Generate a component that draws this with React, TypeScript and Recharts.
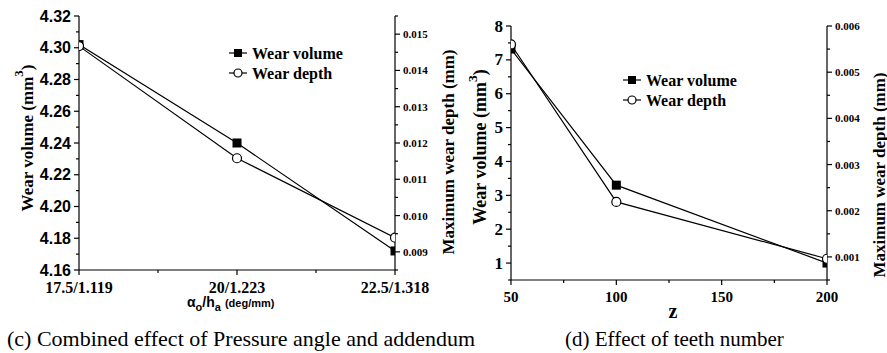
import React from "react";
import { LineChart, Line, XAxis, YAxis } from "recharts";

// (c) combined effect of pressure angle and addendum
const pressureLabels = ["17.5/1.119", "20/1.223", "22.5/1.318"];
const pressureVolume = [4.302, 4.24, 4.172];
const pressureDepth = [0.01467, 0.01158, 0.00939];

const pressureXTicks = [0, 0.5, 1, 1.5, 2];
const pressureXMajors = [0, 1, 2];
const pressureVolumeTicks = [4.16, 4.17, 4.18, 4.19, 4.2, 4.21, 4.22, 4.23, 4.24, 4.25, 4.26, 4.27, 4.28, 4.29, 4.3, 4.31, 4.32];
const pressureVolumeMajors = [4.16, 4.18, 4.2, 4.22, 4.24, 4.26, 4.28, 4.3, 4.32];
const pressureDepthTicks = [0.0085, 0.009, 0.0095, 0.01, 0.0105, 0.011, 0.0115, 0.012, 0.0125, 0.013, 0.0135, 0.014, 0.0145, 0.015, 0.0155];
const pressureDepthMajors = [0.009, 0.01, 0.011, 0.012, 0.013, 0.014, 0.015];

// (d) effect of teeth number
const teethNumbers = [50, 100, 200];
const teethVolume = [7.32, 3.3, 1.0];
const teethDepth = [0.0056, 0.00219, 0.00096];

const teethXTicks = [50, 75, 100, 125, 150, 175, 200];
const teethXMajors = [50, 100, 150, 200];
const teethVolumeTicks = [0.5, 1, 1.5, 2, 2.5, 3, 3.5, 4, 4.5, 5, 5.5, 6, 6.5, 7, 7.5, 8];
const teethVolumeMajors = [1, 2, 3, 4, 5, 6, 7, 8];
const teethDepthTicks = [0.0005, 0.001, 0.0015, 0.002, 0.0025, 0.003, 0.0035, 0.004, 0.0045, 0.005, 0.0055, 0.006];
const teethDepthMajors = [0.001, 0.002, 0.003, 0.004, 0.005, 0.006];

const SERIF = '"Liberation Serif", "Times New Roman", serif';
const SANS = '"Liberation Sans", Arial, sans-serif';

const pressureRows = pressureLabels.map((label, i) => ({
  pos: i,
  label,
  volume: pressureVolume[i],
  depth: pressureDepth[i],
}));

const teethRows = teethNumbers.map((z, i) => ({
  z,
  volume: teethVolume[i],
  depth: teethDepth[i],
}));

const isMajor = (majors: number[], v: number) => majors.some((m) => Math.abs(m - v) < 1e-9);

// tick drawn by hand so major and minor ticks get different lengths
function AxisTick(props: any) {
  const { x, y, payload, side, majors, fmt, font, size, gap } = props;
  const v = payload.value;
  const major = isMajor(majors, v);
  const len = major ? 5 : 3;
  const label = major && fmt ? fmt(v) : null;
  const textStyle = { fontFamily: font, fontWeight: 700, fontSize: size, fill: "#000" };
  if (side === "left") {
    return (
      <g>
        <line x1={x} y1={y} x2={x - len} y2={y} stroke="#000" strokeWidth={1.2} />
        {label && (
          <text x={x - len - gap} y={y} textAnchor="end" dominantBaseline="central" style={textStyle}>
            {label}
          </text>
        )}
      </g>
    );
  }
  if (side === "right") {
    return (
      <g>
        <line x1={x} y1={y} x2={x + len} y2={y} stroke="#000" strokeWidth={1.2} />
        {label && (
          <text x={x + len + gap} y={y} textAnchor="start" dominantBaseline="central" style={textStyle}>
            {label}
          </text>
        )}
      </g>
    );
  }
  if (side === "top") {
    return <line x1={x} y1={y} x2={x} y2={y + len} stroke="#000" strokeWidth={1.2} />;
  }
  return (
    <g>
      <line x1={x} y1={y} x2={x} y2={y + len} stroke="#000" strokeWidth={1.2} />
      {label && (
        <text x={x} y={y + len + gap} textAnchor="middle" dominantBaseline="central" style={textStyle}>
          {label}
        </text>
      )}
    </g>
  );
}

function SquareDot(props: any) {
  const { cx, cy, index } = props;
  if (cx == null || cy == null) return null;
  return <rect key={`sq-${index}`} x={cx - 4.5} y={cy - 4.5} width={9} height={9} fill="#000" />;
}

function CircleDot(props: any) {
  const { cx, cy, index } = props;
  if (cx == null || cy == null) return null;
  return <circle key={`ci-${index}`} cx={cx} cy={cy} r={4.5} fill="#fff" stroke="#000" strokeWidth={1.2} />;
}

const axisLine = { stroke: "#000", strokeWidth: 1.2 };

function PressureChart() {
  return (
    <LineChart width={445} height={310} data={pressureRows} margin={{ top: 16, right: 0, bottom: 0, left: 0 }}>
      <XAxis
        xAxisId="x"
        dataKey="pos"
        type="number"
        domain={[0, 2]}
        allowDataOverflow
        ticks={pressureXTicks}
        interval={0}
        height={40}
        axisLine={axisLine}
        tickLine={false}
        tickSize={0}
        tickMargin={0}
        tick={<AxisTick side="bottom" majors={pressureXMajors} fmt={(v: number) => pressureLabels[v]} font={SERIF} size={16} gap={12} />}
      />
      <XAxis
        xAxisId="top"
        orientation="top"
        dataKey="pos"
        type="number"
        domain={[0, 2]}
        ticks={pressureXTicks}
        interval={0}
        height={0}
        axisLine={axisLine}
        tickLine={false}
        tickSize={0}
        tickMargin={0}
        tick={<AxisTick side="top" majors={pressureXMajors} />}
      />
      <YAxis
        yAxisId="vol"
        orientation="left"
        domain={[4.16, 4.32]}
        ticks={pressureVolumeTicks}
        interval={0}
        width={79}
        axisLine={axisLine}
        tickLine={false}
        tickSize={0}
        tickMargin={0}
        tick={<AxisTick side="left" majors={pressureVolumeMajors} fmt={(v: number) => v.toFixed(2)} font={SANS} size={16} gap={3} />}
      />
      <YAxis
        yAxisId="dep"
        orientation="right"
        domain={[0.0085, 0.0155]}
        ticks={pressureDepthTicks}
        interval={0}
        width={50}
        axisLine={axisLine}
        tickLine={false}
        tickSize={0}
        tickMargin={0}
        tick={<AxisTick side="right" majors={pressureDepthMajors} fmt={(v: number) => v.toFixed(3)} font={SERIF} size={11} gap={3} />}
      />
      <Line xAxisId="x" yAxisId="vol" type="linear" dataKey="volume" stroke="#000" strokeWidth={1.2} dot={SquareDot} activeDot={false} isAnimationActive={false} />
      <Line xAxisId="x" yAxisId="dep" type="linear" dataKey="depth" stroke="#000" strokeWidth={1.2} dot={CircleDot} activeDot={false} isAnimationActive={false} />
    </LineChart>
  );
}

function TeethChart() {
  return (
    <LineChart width={437} height={320} data={teethRows} margin={{ top: 26, right: 0, bottom: 0, left: 0 }}>
      <XAxis
        xAxisId="x"
        dataKey="z"
        type="number"
        domain={[50, 200]}
        allowDataOverflow
        ticks={teethXTicks}
        interval={0}
        height={40}
        axisLine={axisLine}
        tickLine={false}
        tickSize={0}
        tickMargin={0}
        tick={<AxisTick side="bottom" majors={teethXMajors} fmt={(v: number) => String(v)} font={SERIF} size={15} gap={12} />}
      />
      <XAxis
        xAxisId="top"
        orientation="top"
        dataKey="z"
        type="number"
        domain={[50, 200]}
        ticks={teethXTicks}
        interval={0}
        height={0}
        axisLine={axisLine}
        tickLine={false}
        tickSize={0}
        tickMargin={0}
        tick={<AxisTick side="top" majors={teethXMajors} />}
      />
      <YAxis
        yAxisId="vol"
        orientation="left"
        domain={[0.5, 8]}
        ticks={teethVolumeTicks}
        interval={0}
        width={71}
        axisLine={axisLine}
        tickLine={false}
        tickSize={0}
        tickMargin={0}
        tick={<AxisTick side="left" majors={teethVolumeMajors} fmt={(v: number) => String(v)} font={SERIF} size={17} gap={3} />}
      />
      <YAxis
        yAxisId="dep"
        orientation="right"
        domain={[0.0005, 0.006]}
        ticks={teethDepthTicks}
        interval={0}
        width={50}
        axisLine={axisLine}
        tickLine={false}
        tickSize={0}
        tickMargin={0}
        tick={<AxisTick side="right" majors={teethDepthMajors} fmt={(v: number) => v.toFixed(3)} font={SERIF} size={11} gap={3} />}
      />
      <Line xAxisId="x" yAxisId="vol" type="linear" dataKey="volume" stroke="#000" strokeWidth={1.2} dot={SquareDot} activeDot={false} isAnimationActive={false} />
      <Line xAxisId="x" yAxisId="dep" type="linear" dataKey="depth" stroke="#000" strokeWidth={1.2} dot={CircleDot} activeDot={false} isAnimationActive={false} />
    </LineChart>
  );
}

const titleStyle = { fontFamily: SERIF, fontWeight: 700, fill: "#000" };

function VolumeTitle({ x, y, size }: { x: number; y: number; size: number }) {
  return (
    <text x={x} y={y} transform={`rotate(-90 ${x} ${y})`} textAnchor="middle" dominantBaseline="central" style={{ ...titleStyle, fontSize: size }}>
      Wear volume (mm
      <tspan dy={-size * 0.45} fontSize={size * 0.75}>3</tspan>
      <tspan dy={size * 0.45}>)</tspan>
    </text>
  );
}

function DepthTitle({ x, y, size }: { x: number; y: number; size: number }) {
  return (
    <text x={x} y={y} transform={`rotate(-90 ${x} ${y})`} textAnchor="middle" dominantBaseline="central" style={{ ...titleStyle, fontSize: size }}>
      Maximum wear depth (mm)
    </text>
  );
}

function LegendBlock({ x, y }: { x: number; y: number }) {
  const textStyle = { ...titleStyle, fontSize: 16 };
  return (
    <g>
      <line x1={x} y1={y} x2={x + 18} y2={y} stroke="#000" strokeWidth={1.2} />
      <rect x={x + 5} y={y - 4} width={8} height={8} fill="#000" />
      <text x={x + 23} y={y} dominantBaseline="central" style={textStyle}>Wear volume</text>
      <line x1={x} y1={y + 20} x2={x + 18} y2={y + 20} stroke="#000" strokeWidth={1.2} />
      <circle cx={x + 9} cy={y + 20} r={4} fill="#fff" stroke="#000" strokeWidth={1.2} />
      <text x={x + 23} y={y + 20} dominantBaseline="central" style={textStyle}>Wear depth</text>
    </g>
  );
}

export default function App() {
  const sansBold = { fontFamily: SANS, fontWeight: 700, fill: "#000" };
  const caption = { fontFamily: SERIF, fill: "#000" };
  return (
    <div style={{ position: "absolute", left: 0, top: 0, width: 887, height: 353, background: "#fff" }}>
      <div style={{ position: "absolute", left: 0, top: 0 }}>
        <PressureChart />
      </div>
      <div style={{ position: "absolute", left: 440, top: 0 }}>
        <TeethChart />
      </div>
      <svg width={887} height={353} style={{ position: "absolute", left: 0, top: 0, pointerEvents: "none" }}>
        <VolumeTitle x={27} y={138} size={17} />
        <DepthTitle x={448} y={152} size={17} />
        <VolumeTitle x={480} y={147} size={18} />
        <DepthTitle x={879} y={175} size={17} />

        <text x={187} y={307} style={{ ...sansBold, fontSize: 14 }}>
          α<tspan dy={4} fontSize={11}>o</tspan>
          <tspan dy={-4} fontSize={14}>/h</tspan>
          <tspan dy={4} fontSize={11}>a</tspan>
          <tspan dx={4} dy={-4} fontSize={11}>(deg/mm)</tspan>
        </text>
        <text x={673} y={311} textAnchor="middle" dominantBaseline="central" style={{ ...titleStyle, fontSize: 20 }}>z</text>

        <LegendBlock x={229} y={53} />
        <LegendBlock x={623} y={80} />

        <text x={7} y={346} style={{ ...caption, fontSize: 22 }}>(c) Combined effect of Pressure angle and addendum</text>
        <text x={565} y={346} style={{ ...caption, fontSize: 21 }}>(d) Effect of teeth number</text>
      </svg>
    </div>
  );
}
